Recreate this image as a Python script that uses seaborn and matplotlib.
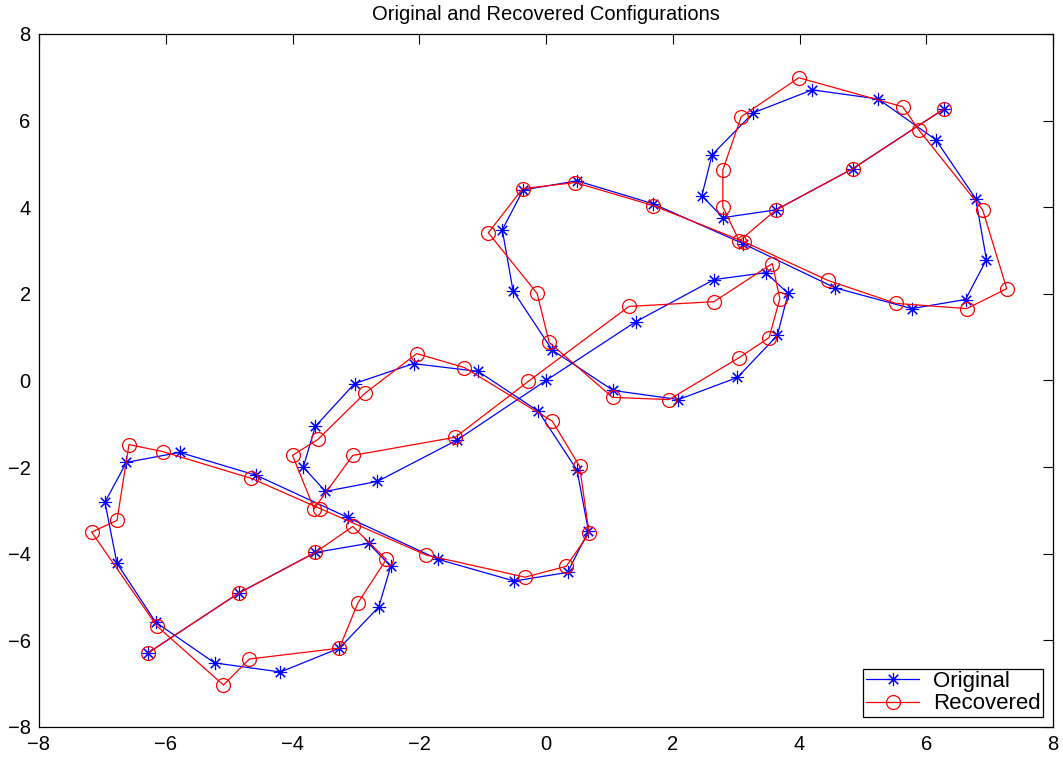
import matplotlib
matplotlib.use("Agg")
import matplotlib.pyplot as plt
import seaborn as sns
import pandas as pd

# Original configuration (blue, '*')
orig_x = [6.28, 4.84, 3.63, 2.79, 2.46, 2.62, 3.27, 4.20, 5.24, 6.15, 6.78, 6.95, 6.62, 5.77, 4.56,
          3.11, 1.69, 0.49, -0.36, -0.69, -0.52, 0.10, 1.06, 2.09, 3.02, 3.65, 3.82, 3.47, 2.65, 1.42,
          0.00,
          -1.41, -2.66, -3.48, -3.83, -3.64, -3.02, -2.09, -1.07, -0.12, 0.49, 0.67, 0.34, -0.50, -1.70,
          -3.13, -4.57, -5.78, -6.62, -6.96, -6.77, -6.16, -5.23, -4.19, -3.26, -2.64, -2.45, -2.80, -3.64,
          -4.85, -6.28]
orig_y = [6.27, 4.89, 3.94, 3.76, 4.27, 5.21, 6.18, 6.71, 6.50, 5.56, 4.20, 2.79, 1.87, 1.66, 2.14,
          3.16, 4.08, 4.61, 4.40, 3.48, 2.07, 0.70, -0.23, -0.44, 0.07, 1.04, 2.01, 2.49, 2.33, 1.36,
          0.00,
          -1.38, -2.33, -2.56, -2.00, -1.06, -0.07, 0.39, 0.21, -0.71, -2.07, -3.48, -4.43, -4.63, -4.13,
          -3.16, -2.19, -1.66, -1.89, -2.81, -4.22, -5.58, -6.52, -6.73, -6.18, -5.23, -4.29, -3.76, -3.97,
          -4.91, -6.29]

# Recovered configuration (red, 'o')
rec_x = [6.28, 4.84, 3.63, 3.05, 2.79, 2.79, 3.08, 3.99, 5.63, 5.88, 6.89, 7.27, 6.64, 5.52, 4.45,
         3.13, 1.69, 0.46, -0.37, -0.91, -0.14, 0.05, 1.05, 1.94, 3.05, 3.52, 3.69, 3.57, 2.65, 1.31,
         -0.28,
         -1.43, -3.05, -3.66, -4.00, -3.60, -2.86, -2.04, -1.29, 0.10, 0.53, 0.68, 0.32, -0.33, -1.89,
         -3.56, -4.65, -6.05, -6.58, -6.77, -7.17, -6.14, -5.09, -4.68, -3.26, -2.97, -2.52, -3.05, -3.64,
         -4.85, -6.28]
rec_y = [6.27, 4.89, 3.94, 3.22, 4.01, 4.86, 6.09, 6.99, 6.32, 5.79, 3.94, 2.12, 1.66, 1.78, 2.31,
         3.20, 4.04, 4.57, 4.43, 3.41, 2.01, 0.88, -0.39, -0.44, 0.53, 0.99, 1.89, 2.70, 1.82, 1.71,
         -0.02,
         -1.31, -1.73, -2.96, -1.73, -1.36, -0.30, 0.62, 0.30, -0.94, -1.98, -3.53, -4.29, -4.54, -4.03,
         -2.96, -2.26, -1.64, -1.48, -3.23, -3.50, -5.67, -7.03, -6.43, -6.18, -5.14, -4.13, -3.37, -3.97,
         -4.91, -6.29]

tick_vals = [-8, -6, -4, -2, 0, 2, 4, 6, 8]
series_names = ["Original", "Recovered"]
title_text = "Original and Recovered Configurations"

sns.set_style("white")
plt.rcParams["font.family"] = ["Liberation Sans", "DejaVu Sans"]
plt.rcParams["text.color"] = "black"
plt.rcParams["xtick.color"] = "black"
plt.rcParams["ytick.color"] = "black"
plt.rcParams["xtick.labelcolor"] = "black"
plt.rcParams["ytick.labelcolor"] = "black"
plt.rcParams["xtick.direction"] = "in"
plt.rcParams["ytick.direction"] = "in"

fig = plt.figure(figsize=(10.63, 7.57), dpi=100)
ax = fig.add_axes([39 / 1063, 1 - 727 / 757, (1053 - 39) / 1063, (727 - 34) / 757])

df_o = pd.DataFrame({"x": orig_x, "y": orig_y})
df_r = pd.DataFrame({"x": rec_x, "y": rec_y})

sns.lineplot(data=df_o, x="x", y="y", sort=False, estimator=None, ax=ax,
             color="#0000ff", linewidth=0.9, marker=(8, 2, 0), markersize=9.5,
             markeredgecolor="#0000ff", markeredgewidth=0.8, label=series_names[0])
sns.lineplot(data=df_r, x="x", y="y", sort=False, estimator=None, ax=ax,
             color="#ff0000", linewidth=0.9, marker="o", markersize=10,
             markerfacecolor="none", markeredgecolor="#ff0000", markeredgewidth=0.9,
             label=series_names[1])

ax.set_xlim(-8, 8)
ax.set_ylim(-8, 8)
ax.set_xticks(tick_vals)
ax.set_yticks(tick_vals)
ax.set_xlabel("")
ax.set_ylabel("")
ax.tick_params(axis="both", which="both", direction="in", length=7, width=0.8,
               top=True, right=True, labelsize=14.5, pad=6, color="black",
               labelcolor="black")
for s in ax.spines.values():
    s.set_visible(True)
    s.set_color("black")
    s.set_linewidth(0.9)
ax.grid(False)
ax.set_title(title_text, fontsize=14.5, pad=10, color="black")

leg = ax.legend(loc="lower right", fontsize=16, frameon=True, fancybox=False,
                edgecolor="black", framealpha=1, borderaxespad=0.45, handlelength=2.4,
                borderpad=0.12, labelspacing=0.05, handletextpad=0.6)
leg.get_frame().set_linewidth(0.9)
for t in leg.get_texts():
    t.set_color("black")

fig.savefig("out.png", dpi=100)
